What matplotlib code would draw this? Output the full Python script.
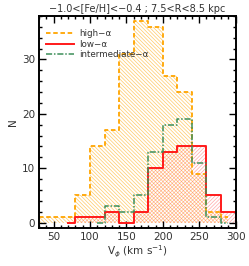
import matplotlib
matplotlib.use("Agg")
import matplotlib.pyplot as plt
from matplotlib.ticker import MultipleLocator

# Bin centres (km/s) and counts per population
high_centers = [30, 50, 70, 90, 110, 130, 150, 170, 190, 210, 230, 250, 270, 290]
high_counts = [1, 1, 1, 5, 14, 17, 31, 37, 36, 27, 24, 9, 2, 1]

low_centers = [70, 90, 110, 130, 150, 170, 190, 210, 230, 250, 270, 290, 310]
low_counts = [0, 1, 1, 2, 0, 2, 10, 13, 14, 14, 5, 2, 0]

mid_centers = [110, 130, 150, 170, 190, 210, 230, 250, 270, 290]
mid_counts = [0, 3, 2, 5, 13, 18, 19, 11, 1, 0]

labels = ["high\u2212\u03b1", "low\u2212\u03b1", "intermediate\u2212\u03b1"]
title = "\u22121.0<[Fe/H]<\u22120.4 ; 7.5<R<8.5 kpc"

c_high = "#FFA500"
c_low = "#FF1A1A"
c_mid = "#3D8F5A"
txt = "#333333"

plt.rcParams["hatch.linewidth"] = 0.5
fig = plt.figure(figsize=(2.49, 2.66), dpi=100)
ax = fig.add_axes([0.157, 0.143, 0.789, 0.797])

ax.fill_between(high_centers, high_counts, step="mid", facecolor="none",
                edgecolor=(1.0, 0.65, 0.0, 0.6), linewidth=0, hatch="\\" * 9)
ax.fill_between(low_centers, low_counts, step="mid", facecolor="none",
                edgecolor=(1.0, 0.25, 0.25, 0.45), linewidth=0, hatch="/" * 9)

ax.step(high_centers, high_counts, where="mid", color=c_high, lw=1.3,
        ls=(0, (2.5, 1.5)), label=labels[0])
ax.step(low_centers, low_counts, where="mid", color=c_low, lw=1.4,
        ls="-", label=labels[1])
ax.step(mid_centers, mid_counts, where="mid", color=c_mid, lw=1.1,
        ls=(0, (4, 1.2, 1, 1.2)), label=labels[2])

ax.set_xlim(30, 300)
ax.set_ylim(-1, 38)
ax.xaxis.set_major_locator(MultipleLocator(50))
ax.xaxis.set_minor_locator(MultipleLocator(10))
ax.yaxis.set_major_locator(MultipleLocator(10))
ax.yaxis.set_minor_locator(MultipleLocator(2))
ax.tick_params(which="both", direction="in", top=True, right=True,
               colors="black", labelcolor=txt, labelsize=7.5, pad=3)
ax.tick_params(which="major", length=5, width=1)
ax.tick_params(which="minor", length=2.5, width=1)
for s in ax.spines.values():
    s.set_linewidth(1.4)

ax.set_title(title, fontsize=7, color=txt, pad=3)
ax.set_xlabel("V$_\\phi$ (km s$^{-1}$)", fontsize=7.5, color=txt, labelpad=1)
ax.set_ylabel("N", fontsize=7.5, color=txt, labelpad=3)

leg = ax.legend(loc="upper left", frameon=False, fontsize=6.3, handlelength=3.2,
                handletextpad=0.6, labelspacing=0.15, borderaxespad=0.4,
                bbox_to_anchor=(0.0, 0.97))
for t in leg.get_texts():
    t.set_color(txt)

fig.savefig("out.png", dpi=100)
